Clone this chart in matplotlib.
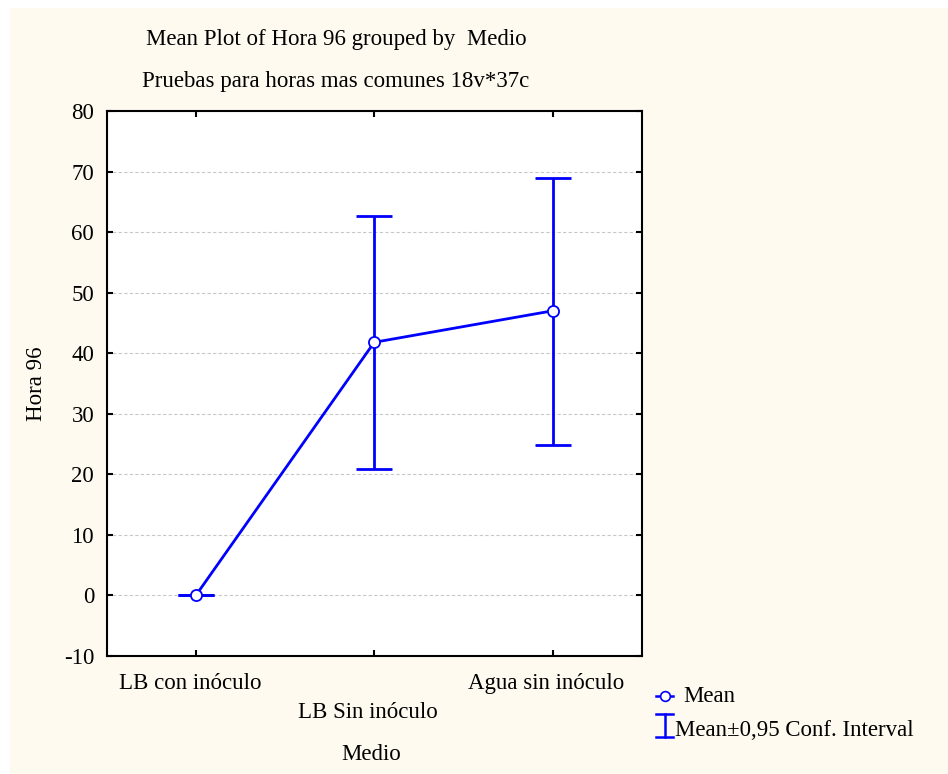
import numpy as np
import matplotlib.pyplot as plt
from matplotlib.patches import Rectangle
from matplotlib.lines import Line2D
from matplotlib.transforms import ScaledTranslation

plt.rcParams['font.family'] = ['Liberation Serif', 'DejaVu Serif']
plt.rcParams['font.size'] = 16.5
plt.rcParams['axes.unicode_minus'] = False

# Hora 96 por medio: media e intervalo de confianza al 95 %
medios = ['LB con inóculo', 'LB Sin inóculo', 'Agua sin inóculo']
media = np.array([0.0, 41.8, 47.0])
ic_inf = np.array([0.0, 20.9, 24.9])
ic_sup = np.array([0.0, 62.6, 69.0])
yticks = [-10, 0, 10, 20, 30, 40, 50, 60, 70, 80]

azul = '#0000ff'
fondo = '#fffaf0'

fig = plt.figure(figsize=(9.48, 7.74), dpi=100)
fig.patch.set_facecolor('white')
fig.patches.append(Rectangle((10 / 948, 0), 1, 1 - 8 / 774, transform=fig.transFigure,
                             facecolor=fondo, edgecolor='none', zorder=-10))

ax = fig.add_axes([0.1125, 0.1525, 0.5645, 0.7041])
ax.set_facecolor('white')

x = np.arange(len(medios))
ax.errorbar(x, media, yerr=[media - ic_inf, ic_sup - media], fmt='none',
            ecolor=azul, elinewidth=2, capsize=13, capthick=2, zorder=3)
ax.plot(x, media, color=azul, lw=2, marker='o', ms=8, mfc='white',
        mec=azul, mew=1.3, zorder=4)

ax.set_xlim(-0.5, 2.5)
ax.set_ylim(-10, 80)
ax.set_yticks(yticks)
ax.set_xticks(x)
ax.set_xticklabels(medios)
ax.yaxis.grid(True, ls=(0, (3, 2)), color='#c8c8c8', lw=0.8)
ax.set_axisbelow(True)
ax.tick_params(direction='in', length=4, width=1.5, top=True, right=True, pad=9)
ax.tick_params(axis='x', pad=12)
ax.xaxis.get_major_ticks()[1].set_pad(33)
# etiquetas del eje x un poco corridas a la izquierda
desplazo = ScaledTranslation(-6 / 100, 0, fig.dpi_scale_trans)
for lab in ax.get_xticklabels():
    lab.set_transform(lab.get_transform() + desplazo)
for s in ax.spines.values():
    s.set_linewidth(1.5)

ax.set_ylabel('Hora 96', labelpad=12)
fig.text(371 / 948, 1 - 755 / 774, 'Medio', ha='center', va='center')
fig.text(336 / 948, 1 - 40 / 774, 'Mean Plot of Hora 96 grouped by  Medio',
         ha='center', va='center')
fig.text(336 / 948, 1 - 82 / 774, 'Pruebas para horas mas comunes 18v*37c',
         ha='center', va='center')

# leyenda
fig.lines.append(Line2D([656 / 948, 673 / 948], [1 - 696 / 774] * 2, color=azul, lw=1.8,
                        transform=fig.transFigure))
fig.lines.append(Line2D([664.5 / 948], [1 - 696 / 774], color=azul, marker='o', ms=7,
                        mfc='white', mew=1.2, transform=fig.transFigure))
fig.text(683 / 948, 1 - 696 / 774, 'Mean', ha='left', va='center')
for yy in (714, 737):
    fig.lines.append(Line2D([656 / 948, 673 / 948], [1 - yy / 774] * 2, color=azul, lw=1.8,
                            transform=fig.transFigure))
fig.lines.append(Line2D([664.5 / 948] * 2, [1 - 714 / 774, 1 - 737 / 774], color=azul,
                        lw=1.8, transform=fig.transFigure))
fig.text(675 / 948, 1 - 731 / 774, 'Mean±0,95 Conf. Interval', ha='left', va='center')

fig.savefig('out.png', dpi=100, facecolor=fig.get_facecolor())
